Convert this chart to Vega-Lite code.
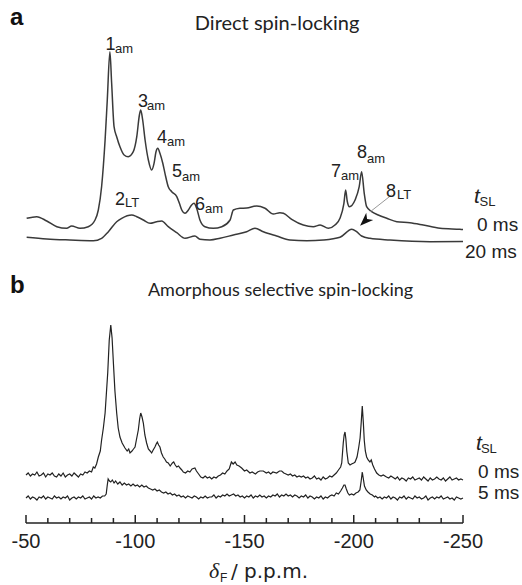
{
"$schema": "https://vega.github.io/schema/vega-lite/v6.json",
"width": 437, "height": 523,
"autosize": "none",
"padding": {"left": 26, "top": 0, "right": 59, "bottom": 62},
"background": "white",
"config": {"view": {"stroke": null}},
"datasets": {
"specA": [
{"trace":"0 ms","shift":-50.3,"intensity":304.7},{"trace":"0 ms","shift":-54.9,"intensity":306.3},{"trace":"0 ms","shift":-59.5,"intensity":302},{"trace":"0 ms","shift":-64.1,"intensity":296.3},{"trace":"0 ms","shift":-68.6,"intensity":294.7},{"trace":"0 ms","shift":-70.9,"intensity":297},{"trace":"0 ms","shift":-74.7,"intensity":294.7},{"trace":"0 ms","shift":-78.5,"intensity":296.3},{"trace":"0 ms","shift":-81.6,"intensity":303},{"trace":"0 ms","shift":-83.1,"intensity":313},{"trace":"0 ms","shift":-84.6,"intensity":336.3},{"trace":"0 ms","shift":-86.2,"intensity":383},{"trace":"0 ms","shift":-87.2,"intensity":423},{"trace":"0 ms","shift":-88.4,"intensity":471.3},{"trace":"0 ms","shift":-89.2,"intensity":439.7},{"trace":"0 ms","shift":-90.3,"intensity":396.3},{"trace":"0 ms","shift":-91.5,"intensity":386.3},{"trace":"0 ms","shift":-93.0,"intensity":376.3},{"trace":"0 ms","shift":-94.9,"intensity":368},{"trace":"0 ms","shift":-96.8,"intensity":366.3},{"trace":"0 ms","shift":-99.1,"intensity":371.3},{"trace":"0 ms","shift":-100.7,"intensity":386.3},{"trace":"0 ms","shift":-101.9,"intensity":408},{"trace":"0 ms","shift":-102.5,"intensity":413},{"trace":"0 ms","shift":-103.4,"intensity":403},{"trace":"0 ms","shift":-104.5,"intensity":383},{"trace":"0 ms","shift":-106.0,"intensity":363},{"trace":"0 ms","shift":-107.5,"intensity":353},{"trace":"0 ms","shift":-108.6,"intensity":359.7},{"trace":"0 ms","shift":-109.5,"intensity":371.3},{"trace":"0 ms","shift":-110.3,"intensity":374.7},{"trace":"0 ms","shift":-111.3,"intensity":369.7},{"trace":"0 ms","shift":-112.6,"intensity":359.7},{"trace":"0 ms","shift":-113.6,"intensity":349.7},{"trace":"0 ms","shift":-115.1,"intensity":336.3},{"trace":"0 ms","shift":-116.7,"intensity":331.3},{"trace":"0 ms","shift":-119.0,"intensity":326.3},{"trace":"0 ms","shift":-120.2,"intensity":319.7},{"trace":"0 ms","shift":-121.3,"intensity":313},{"trace":"0 ms","shift":-122.8,"intensity":309.7},{"trace":"0 ms","shift":-124.3,"intensity":313},{"trace":"0 ms","shift":-125.8,"intensity":318},{"trace":"0 ms","shift":-126.9,"intensity":319.7},{"trace":"0 ms","shift":-128.1,"intensity":314.7},{"trace":"0 ms","shift":-129.6,"intensity":303},{"trace":"0 ms","shift":-131.9,"intensity":296.3},{"trace":"0 ms","shift":-135.7,"intensity":294.7},{"trace":"0 ms","shift":-139.6,"intensity":296.3},{"trace":"0 ms","shift":-143.4,"intensity":303},{"trace":"0 ms","shift":-144.9,"intensity":313},{"trace":"0 ms","shift":-147.9,"intensity":314.7},{"trace":"0 ms","shift":-151.0,"intensity":315},{"trace":"0 ms","shift":-155.6,"intensity":317},{"trace":"0 ms","shift":-159.4,"intensity":314.7},{"trace":"0 ms","shift":-163.2,"intensity":309},{"trace":"0 ms","shift":-166.2,"intensity":310.3},{"trace":"0 ms","shift":-167.8,"intensity":309.7},{"trace":"0 ms","shift":-171.6,"intensity":303.7},{"trace":"0 ms","shift":-176.9,"intensity":298},{"trace":"0 ms","shift":-181.5,"intensity":296.3},{"trace":"0 ms","shift":-184.6,"intensity":298},{"trace":"0 ms","shift":-188.4,"intensity":294.7},{"trace":"0 ms","shift":-191.4,"intensity":298},{"trace":"0 ms","shift":-193.7,"intensity":304.7},{"trace":"0 ms","shift":-195.5,"intensity":319.7},{"trace":"0 ms","shift":-196.3,"intensity":333},{"trace":"0 ms","shift":-197.0,"intensity":322},{"trace":"0 ms","shift":-198.0,"intensity":316.3},{"trace":"0 ms","shift":-200.6,"intensity":323},{"trace":"0 ms","shift":-202.5,"intensity":336.3},{"trace":"0 ms","shift":-203.6,"intensity":351.3},{"trace":"0 ms","shift":-204.8,"intensity":329.7},{"trace":"0 ms","shift":-205.9,"intensity":316.3},{"trace":"0 ms","shift":-208.2,"intensity":311.3},{"trace":"0 ms","shift":-211.2,"intensity":308},{"trace":"0 ms","shift":-215.1,"intensity":304.7},{"trace":"0 ms","shift":-219.7,"intensity":301.3},{"trace":"0 ms","shift":-225.7,"intensity":300.3},{"trace":"0 ms","shift":-231.8,"intensity":298},{"trace":"0 ms","shift":-239.5,"intensity":294.7},{"trace":"0 ms","shift":-248.6,"intensity":293.7},{"trace":"0 ms","shift":-250,"intensity":293.5},
{"trace":"20 ms","shift":-50.3,"intensity":285.7},{"trace":"20 ms","shift":-59.5,"intensity":284},{"trace":"20 ms","shift":-70.1,"intensity":283},{"trace":"20 ms","shift":-80.8,"intensity":282.3},{"trace":"20 ms","shift":-84.6,"intensity":284.7},{"trace":"20 ms","shift":-87.7,"intensity":291.3},{"trace":"20 ms","shift":-91.5,"intensity":301.3},{"trace":"20 ms","shift":-93.8,"intensity":304.7},{"trace":"20 ms","shift":-98.4,"intensity":308},{"trace":"20 ms","shift":-100.7,"intensity":306.3},{"trace":"20 ms","shift":-103.7,"intensity":303},{"trace":"20 ms","shift":-106.8,"intensity":299.7},{"trace":"20 ms","shift":-109.8,"intensity":301.3},{"trace":"20 ms","shift":-112.1,"intensity":302},{"trace":"20 ms","shift":-115.1,"intensity":296.3},{"trace":"20 ms","shift":-119.0,"intensity":290.3},{"trace":"20 ms","shift":-122.8,"intensity":284.7},{"trace":"20 ms","shift":-127.3,"intensity":287},{"trace":"20 ms","shift":-129.6,"intensity":283.7},{"trace":"20 ms","shift":-134.2,"intensity":283},{"trace":"20 ms","shift":-138.8,"intensity":284.7},{"trace":"20 ms","shift":-144.9,"intensity":288},{"trace":"20 ms","shift":-151.0,"intensity":291.3},{"trace":"20 ms","shift":-154.8,"intensity":294.7},{"trace":"20 ms","shift":-158.6,"intensity":291.3},{"trace":"20 ms","shift":-164.7,"intensity":287},{"trace":"20 ms","shift":-170.8,"intensity":283},{"trace":"20 ms","shift":-178.5,"intensity":282.3},{"trace":"20 ms","shift":-186.1,"intensity":283},{"trace":"20 ms","shift":-193.7,"intensity":285.7},{"trace":"20 ms","shift":-199.1,"intensity":293.7},{"trace":"20 ms","shift":-201.3,"intensity":291.3},{"trace":"20 ms","shift":-203.6,"intensity":287},{"trace":"20 ms","shift":-207.4,"intensity":284.7},{"trace":"20 ms","shift":-216.6,"intensity":283},{"trace":"20 ms","shift":-234.9,"intensity":281.3},{"trace":"20 ms","shift":-250,"intensity":281.5}
],
"specB": [
{"trace":"0 ms","shift":-50,"intensity":48},{"trace":"0 ms","shift":-51,"intensity":50},{"trace":"0 ms","shift":-52,"intensity":47},{"trace":"0 ms","shift":-53,"intensity":49},{"trace":"0 ms","shift":-54,"intensity":48},{"trace":"0 ms","shift":-55,"intensity":51},{"trace":"0 ms","shift":-56,"intensity":47},{"trace":"0 ms","shift":-57,"intensity":48},{"trace":"0 ms","shift":-58,"intensity":50},{"trace":"0 ms","shift":-59,"intensity":46},{"trace":"0 ms","shift":-60,"intensity":49},{"trace":"0 ms","shift":-61,"intensity":48},{"trace":"0 ms","shift":-62,"intensity":50},{"trace":"0 ms","shift":-63,"intensity":47},{"trace":"0 ms","shift":-64,"intensity":46},{"trace":"0 ms","shift":-65,"intensity":49},{"trace":"0 ms","shift":-66,"intensity":47},{"trace":"0 ms","shift":-67,"intensity":50},{"trace":"0 ms","shift":-68,"intensity":46},{"trace":"0 ms","shift":-69,"intensity":48},{"trace":"0 ms","shift":-70,"intensity":49},{"trace":"0 ms","shift":-71,"intensity":47},{"trace":"0 ms","shift":-72,"intensity":50},{"trace":"0 ms","shift":-73,"intensity":48},{"trace":"0 ms","shift":-74,"intensity":46},{"trace":"0 ms","shift":-75,"intensity":49},{"trace":"0 ms","shift":-76,"intensity":48},{"trace":"0 ms","shift":-77,"intensity":51},{"trace":"0 ms","shift":-78,"intensity":50},{"trace":"0 ms","shift":-79,"intensity":52},{"trace":"0 ms","shift":-80,"intensity":51},{"trace":"0 ms","shift":-80.8,"intensity":56},{"trace":"0 ms","shift":-81.5,"intensity":55},{"trace":"0 ms","shift":-82.3,"intensity":59},{"trace":"0 ms","shift":-83.1,"intensity":66},{"trace":"0 ms","shift":-84,"intensity":72},{"trace":"0 ms","shift":-84.6,"intensity":83},{"trace":"0 ms","shift":-85.4,"intensity":95},{"trace":"0 ms","shift":-86.2,"intensity":110},{"trace":"0 ms","shift":-86.8,"intensity":130},{"trace":"0 ms","shift":-87.4,"intensity":150},{"trace":"0 ms","shift":-88.1,"intensity":183},{"trace":"0 ms","shift":-88.8,"intensity":198},{"trace":"0 ms","shift":-89.4,"intensity":185},{"trace":"0 ms","shift":-90.0,"intensity":160},{"trace":"0 ms","shift":-90.7,"intensity":132},{"trace":"0 ms","shift":-91.5,"intensity":110},{"trace":"0 ms","shift":-92.2,"intensity":95},{"trace":"0 ms","shift":-93,"intensity":86},{"trace":"0 ms","shift":-94,"intensity":80},{"trace":"0 ms","shift":-95.3,"intensity":75},{"trace":"0 ms","shift":-96.3,"intensity":72},{"trace":"0 ms","shift":-97,"intensity":74},{"trace":"0 ms","shift":-97.6,"intensity":70},{"trace":"0 ms","shift":-98.5,"intensity":72},{"trace":"0 ms","shift":-99.2,"intensity":74},{"trace":"0 ms","shift":-99.9,"intensity":76},{"trace":"0 ms","shift":-100.6,"intensity":84},{"trace":"0 ms","shift":-101.4,"intensity":93},{"trace":"0 ms","shift":-102,"intensity":104},{"trace":"0 ms","shift":-102.5,"intensity":110},{"trace":"0 ms","shift":-103.1,"intensity":106},{"trace":"0 ms","shift":-103.7,"intensity":100},{"trace":"0 ms","shift":-104.4,"intensity":88},{"trace":"0 ms","shift":-105.2,"intensity":80},{"trace":"0 ms","shift":-106,"intensity":74},{"trace":"0 ms","shift":-106.8,"intensity":72},{"trace":"0 ms","shift":-107.5,"intensity":70},{"trace":"0 ms","shift":-108.2,"intensity":73},{"trace":"0 ms","shift":-109,"intensity":76},{"trace":"0 ms","shift":-109.6,"intensity":79},{"trace":"0 ms","shift":-110.1,"intensity":81},{"trace":"0 ms","shift":-110.7,"intensity":78},{"trace":"0 ms","shift":-111.3,"intensity":76},{"trace":"0 ms","shift":-112,"intensity":70},{"trace":"0 ms","shift":-112.8,"intensity":66},{"trace":"0 ms","shift":-113.5,"intensity":64},{"trace":"0 ms","shift":-114.3,"intensity":61},{"trace":"0 ms","shift":-115.1,"intensity":60},{"trace":"0 ms","shift":-116,"intensity":57},{"trace":"0 ms","shift":-117,"intensity":60},{"trace":"0 ms","shift":-117.6,"intensity":61},{"trace":"0 ms","shift":-118.3,"intensity":58},{"trace":"0 ms","shift":-119,"intensity":56},{"trace":"0 ms","shift":-119.8,"intensity":57},{"trace":"0 ms","shift":-120.5,"intensity":55},{"trace":"0 ms","shift":-121.3,"intensity":53},{"trace":"0 ms","shift":-122,"intensity":51},{"trace":"0 ms","shift":-123,"intensity":50},{"trace":"0 ms","shift":-124,"intensity":52},{"trace":"0 ms","shift":-125,"intensity":51},{"trace":"0 ms","shift":-126,"intensity":54},{"trace":"0 ms","shift":-127.3,"intensity":55},{"trace":"0 ms","shift":-128,"intensity":52},{"trace":"0 ms","shift":-129,"intensity":49},{"trace":"0 ms","shift":-130,"intensity":46},{"trace":"0 ms","shift":-131,"intensity":45},{"trace":"0 ms","shift":-132,"intensity":47},{"trace":"0 ms","shift":-133,"intensity":45},{"trace":"0 ms","shift":-134,"intensity":46},{"trace":"0 ms","shift":-135,"intensity":44},{"trace":"0 ms","shift":-136,"intensity":46},{"trace":"0 ms","shift":-137,"intensity":45},{"trace":"0 ms","shift":-138,"intensity":47},{"trace":"0 ms","shift":-139,"intensity":48},{"trace":"0 ms","shift":-140,"intensity":50},{"trace":"0 ms","shift":-141,"intensity":49},{"trace":"0 ms","shift":-142,"intensity":52},{"trace":"0 ms","shift":-143,"intensity":54},{"trace":"0 ms","shift":-144,"intensity":61},{"trace":"0 ms","shift":-144.8,"intensity":59},{"trace":"0 ms","shift":-145.7,"intensity":61},{"trace":"0 ms","shift":-146.5,"intensity":58},{"trace":"0 ms","shift":-147.5,"intensity":57},{"trace":"0 ms","shift":-148.7,"intensity":55},{"trace":"0 ms","shift":-150,"intensity":52},{"trace":"0 ms","shift":-151,"intensity":53},{"trace":"0 ms","shift":-152.5,"intensity":50},{"trace":"0 ms","shift":-153.5,"intensity":51},{"trace":"0 ms","shift":-155,"intensity":49},{"trace":"0 ms","shift":-156,"intensity":51},{"trace":"0 ms","shift":-157,"intensity":52},{"trace":"0 ms","shift":-158.6,"intensity":52},{"trace":"0 ms","shift":-160,"intensity":50},{"trace":"0 ms","shift":-161,"intensity":51},{"trace":"0 ms","shift":-162,"intensity":49},{"trace":"0 ms","shift":-163,"intensity":51},{"trace":"0 ms","shift":-164.7,"intensity":50},{"trace":"0 ms","shift":-166,"intensity":52},{"trace":"0 ms","shift":-167,"intensity":52},{"trace":"0 ms","shift":-168,"intensity":50},{"trace":"0 ms","shift":-169,"intensity":49},{"trace":"0 ms","shift":-170,"intensity":48},{"trace":"0 ms","shift":-171,"intensity":49},{"trace":"0 ms","shift":-172,"intensity":47},{"trace":"0 ms","shift":-173,"intensity":48},{"trace":"0 ms","shift":-174,"intensity":46},{"trace":"0 ms","shift":-175,"intensity":47},{"trace":"0 ms","shift":-176,"intensity":46},{"trace":"0 ms","shift":-177,"intensity":47},{"trace":"0 ms","shift":-178,"intensity":45},{"trace":"0 ms","shift":-179,"intensity":46},{"trace":"0 ms","shift":-180,"intensity":44},{"trace":"0 ms","shift":-181,"intensity":45},{"trace":"0 ms","shift":-182,"intensity":47},{"trace":"0 ms","shift":-183,"intensity":44},{"trace":"0 ms","shift":-184,"intensity":45},{"trace":"0 ms","shift":-185,"intensity":43},{"trace":"0 ms","shift":-186,"intensity":46},{"trace":"0 ms","shift":-187,"intensity":44},{"trace":"0 ms","shift":-188,"intensity":45},{"trace":"0 ms","shift":-189,"intensity":47},{"trace":"0 ms","shift":-190,"intensity":46},{"trace":"0 ms","shift":-191,"intensity":48},{"trace":"0 ms","shift":-192,"intensity":50},{"trace":"0 ms","shift":-193,"intensity":53},{"trace":"0 ms","shift":-194,"intensity":56},{"trace":"0 ms","shift":-194.5,"intensity":60},{"trace":"0 ms","shift":-195.2,"intensity":80},{"trace":"0 ms","shift":-195.6,"intensity":88},{"trace":"0 ms","shift":-196,"intensity":91},{"trace":"0 ms","shift":-196.4,"intensity":84},{"trace":"0 ms","shift":-196.8,"intensity":72},{"trace":"0 ms","shift":-197.5,"intensity":60},{"trace":"0 ms","shift":-198.3,"intensity":58},{"trace":"0 ms","shift":-199,"intensity":59},{"trace":"0 ms","shift":-200,"intensity":60},{"trace":"0 ms","shift":-200.6,"intensity":61},{"trace":"0 ms","shift":-201.5,"intensity":66},{"trace":"0 ms","shift":-202.3,"intensity":76},{"trace":"0 ms","shift":-202.9,"intensity":85},{"trace":"0 ms","shift":-203.4,"intensity":100},{"trace":"0 ms","shift":-203.9,"intensity":117},{"trace":"0 ms","shift":-204.4,"intensity":100},{"trace":"0 ms","shift":-204.8,"intensity":83},{"trace":"0 ms","shift":-205.3,"intensity":72},{"trace":"0 ms","shift":-205.9,"intensity":66},{"trace":"0 ms","shift":-206.6,"intensity":63},{"trace":"0 ms","shift":-207.4,"intensity":61},{"trace":"0 ms","shift":-208,"intensity":63},{"trace":"0 ms","shift":-208.7,"intensity":58},{"trace":"0 ms","shift":-209.5,"intensity":54},{"trace":"0 ms","shift":-210.5,"intensity":50},{"trace":"0 ms","shift":-211.5,"intensity":48},{"trace":"0 ms","shift":-212.5,"intensity":47},{"trace":"0 ms","shift":-213.5,"intensity":48},{"trace":"0 ms","shift":-215,"intensity":46},{"trace":"0 ms","shift":-216,"intensity":45},{"trace":"0 ms","shift":-217,"intensity":47},{"trace":"0 ms","shift":-218.4,"intensity":45},{"trace":"0 ms","shift":-219,"intensity":44},{"trace":"0 ms","shift":-220,"intensity":46},{"trace":"0 ms","shift":-221,"intensity":43},{"trace":"0 ms","shift":-222,"intensity":45},{"trace":"0 ms","shift":-223,"intensity":44},{"trace":"0 ms","shift":-224,"intensity":42},{"trace":"0 ms","shift":-225,"intensity":45},{"trace":"0 ms","shift":-226,"intensity":44},{"trace":"0 ms","shift":-227,"intensity":46},{"trace":"0 ms","shift":-228,"intensity":43},{"trace":"0 ms","shift":-229,"intensity":44},{"trace":"0 ms","shift":-230,"intensity":45},{"trace":"0 ms","shift":-231,"intensity":43},{"trace":"0 ms","shift":-232,"intensity":46},{"trace":"0 ms","shift":-233,"intensity":44},{"trace":"0 ms","shift":-234,"intensity":42},{"trace":"0 ms","shift":-235,"intensity":45},{"trace":"0 ms","shift":-236,"intensity":43},{"trace":"0 ms","shift":-237,"intensity":44},{"trace":"0 ms","shift":-238,"intensity":46},{"trace":"0 ms","shift":-239,"intensity":44},{"trace":"0 ms","shift":-240,"intensity":43},{"trace":"0 ms","shift":-241,"intensity":45},{"trace":"0 ms","shift":-242,"intensity":42},{"trace":"0 ms","shift":-243,"intensity":44},{"trace":"0 ms","shift":-244,"intensity":46},{"trace":"0 ms","shift":-245,"intensity":43},{"trace":"0 ms","shift":-246,"intensity":44},{"trace":"0 ms","shift":-247,"intensity":45},{"trace":"0 ms","shift":-248,"intensity":43},{"trace":"0 ms","shift":-249,"intensity":44},{"trace":"0 ms","shift":-250,"intensity":43},
{"trace":"5 ms","shift":-50,"intensity":25},{"trace":"5 ms","shift":-51,"intensity":27},{"trace":"5 ms","shift":-52,"intensity":24},{"trace":"5 ms","shift":-53,"intensity":26},{"trace":"5 ms","shift":-54,"intensity":25},{"trace":"5 ms","shift":-55,"intensity":23},{"trace":"5 ms","shift":-56,"intensity":26},{"trace":"5 ms","shift":-57,"intensity":25},{"trace":"5 ms","shift":-58,"intensity":27},{"trace":"5 ms","shift":-59,"intensity":24},{"trace":"5 ms","shift":-60,"intensity":26},{"trace":"5 ms","shift":-61,"intensity":25},{"trace":"5 ms","shift":-62,"intensity":24},{"trace":"5 ms","shift":-63,"intensity":27},{"trace":"5 ms","shift":-64,"intensity":25},{"trace":"5 ms","shift":-65,"intensity":26},{"trace":"5 ms","shift":-66,"intensity":24},{"trace":"5 ms","shift":-67,"intensity":26},{"trace":"5 ms","shift":-68,"intensity":25},{"trace":"5 ms","shift":-69,"intensity":27},{"trace":"5 ms","shift":-70,"intensity":23},{"trace":"5 ms","shift":-71,"intensity":25},{"trace":"5 ms","shift":-72,"intensity":26},{"trace":"5 ms","shift":-73,"intensity":24},{"trace":"5 ms","shift":-74,"intensity":26},{"trace":"5 ms","shift":-75,"intensity":25},{"trace":"5 ms","shift":-76,"intensity":27},{"trace":"5 ms","shift":-77,"intensity":24},{"trace":"5 ms","shift":-78,"intensity":25},{"trace":"5 ms","shift":-79,"intensity":26},{"trace":"5 ms","shift":-80,"intensity":24},{"trace":"5 ms","shift":-81,"intensity":27},{"trace":"5 ms","shift":-82,"intensity":25},{"trace":"5 ms","shift":-83,"intensity":26},{"trace":"5 ms","shift":-84,"intensity":25},{"trace":"5 ms","shift":-85,"intensity":27},{"trace":"5 ms","shift":-86,"intensity":27},{"trace":"5 ms","shift":-86.7,"intensity":29},{"trace":"5 ms","shift":-87.2,"intensity":38},{"trace":"5 ms","shift":-87.6,"intensity":44},{"trace":"5 ms","shift":-88.2,"intensity":42},{"trace":"5 ms","shift":-88.8,"intensity":41},{"trace":"5 ms","shift":-89.5,"intensity":43},{"trace":"5 ms","shift":-90.3,"intensity":40},{"trace":"5 ms","shift":-91,"intensity":42},{"trace":"5 ms","shift":-92,"intensity":39},{"trace":"5 ms","shift":-93,"intensity":41},{"trace":"5 ms","shift":-94,"intensity":38},{"trace":"5 ms","shift":-95,"intensity":40},{"trace":"5 ms","shift":-96,"intensity":38},{"trace":"5 ms","shift":-97,"intensity":39},{"trace":"5 ms","shift":-98,"intensity":37},{"trace":"5 ms","shift":-99,"intensity":39},{"trace":"5 ms","shift":-100,"intensity":37},{"trace":"5 ms","shift":-101,"intensity":38},{"trace":"5 ms","shift":-102,"intensity":36},{"trace":"5 ms","shift":-103,"intensity":38},{"trace":"5 ms","shift":-104,"intensity":36},{"trace":"5 ms","shift":-105,"intensity":37},{"trace":"5 ms","shift":-106,"intensity":35},{"trace":"5 ms","shift":-107,"intensity":34},{"trace":"5 ms","shift":-108,"intensity":33},{"trace":"5 ms","shift":-109,"intensity":34},{"trace":"5 ms","shift":-110,"intensity":32},{"trace":"5 ms","shift":-111,"intensity":33},{"trace":"5 ms","shift":-112,"intensity":31},{"trace":"5 ms","shift":-113,"intensity":30},{"trace":"5 ms","shift":-114,"intensity":31},{"trace":"5 ms","shift":-115,"intensity":29},{"trace":"5 ms","shift":-116,"intensity":30},{"trace":"5 ms","shift":-117,"intensity":28},{"trace":"5 ms","shift":-118,"intensity":29},{"trace":"5 ms","shift":-119,"intensity":27},{"trace":"5 ms","shift":-120,"intensity":28},{"trace":"5 ms","shift":-121,"intensity":26},{"trace":"5 ms","shift":-122,"intensity":27},{"trace":"5 ms","shift":-123,"intensity":25},{"trace":"5 ms","shift":-124,"intensity":27},{"trace":"5 ms","shift":-125,"intensity":26},{"trace":"5 ms","shift":-126,"intensity":25},{"trace":"5 ms","shift":-127,"intensity":27},{"trace":"5 ms","shift":-128,"intensity":26},{"trace":"5 ms","shift":-129,"intensity":24},{"trace":"5 ms","shift":-130,"intensity":26},{"trace":"5 ms","shift":-131,"intensity":25},{"trace":"5 ms","shift":-132,"intensity":27},{"trace":"5 ms","shift":-133,"intensity":25},{"trace":"5 ms","shift":-134,"intensity":26},{"trace":"5 ms","shift":-135,"intensity":26},{"trace":"5 ms","shift":-136,"intensity":28},{"trace":"5 ms","shift":-137,"intensity":25},{"trace":"5 ms","shift":-138,"intensity":27},{"trace":"5 ms","shift":-139,"intensity":26},{"trace":"5 ms","shift":-140,"intensity":28},{"trace":"5 ms","shift":-141,"intensity":27},{"trace":"5 ms","shift":-142,"intensity":29},{"trace":"5 ms","shift":-143,"intensity":27},{"trace":"5 ms","shift":-144,"intensity":28},{"trace":"5 ms","shift":-145,"intensity":29},{"trace":"5 ms","shift":-146,"intensity":27},{"trace":"5 ms","shift":-147,"intensity":28},{"trace":"5 ms","shift":-148,"intensity":26},{"trace":"5 ms","shift":-149,"intensity":27},{"trace":"5 ms","shift":-150,"intensity":25},{"trace":"5 ms","shift":-151,"intensity":27},{"trace":"5 ms","shift":-152,"intensity":26},{"trace":"5 ms","shift":-153,"intensity":28},{"trace":"5 ms","shift":-154,"intensity":25},{"trace":"5 ms","shift":-155,"intensity":27},{"trace":"5 ms","shift":-156,"intensity":26},{"trace":"5 ms","shift":-157,"intensity":28},{"trace":"5 ms","shift":-158,"intensity":26},{"trace":"5 ms","shift":-159,"intensity":27},{"trace":"5 ms","shift":-160,"intensity":25},{"trace":"5 ms","shift":-161,"intensity":27},{"trace":"5 ms","shift":-162,"intensity":26},{"trace":"5 ms","shift":-163,"intensity":28},{"trace":"5 ms","shift":-164,"intensity":27},{"trace":"5 ms","shift":-165,"intensity":29},{"trace":"5 ms","shift":-166,"intensity":26},{"trace":"5 ms","shift":-167,"intensity":28},{"trace":"5 ms","shift":-168,"intensity":27},{"trace":"5 ms","shift":-169,"intensity":29},{"trace":"5 ms","shift":-170,"intensity":27},{"trace":"5 ms","shift":-171,"intensity":28},{"trace":"5 ms","shift":-172,"intensity":26},{"trace":"5 ms","shift":-173,"intensity":28},{"trace":"5 ms","shift":-174,"intensity":27},{"trace":"5 ms","shift":-175,"intensity":25},{"trace":"5 ms","shift":-176,"intensity":27},{"trace":"5 ms","shift":-177,"intensity":26},{"trace":"5 ms","shift":-178,"intensity":28},{"trace":"5 ms","shift":-179,"intensity":25},{"trace":"5 ms","shift":-180,"intensity":27},{"trace":"5 ms","shift":-181,"intensity":26},{"trace":"5 ms","shift":-182,"intensity":24},{"trace":"5 ms","shift":-183,"intensity":26},{"trace":"5 ms","shift":-184,"intensity":25},{"trace":"5 ms","shift":-185,"intensity":27},{"trace":"5 ms","shift":-186,"intensity":24},{"trace":"5 ms","shift":-187,"intensity":26},{"trace":"5 ms","shift":-188,"intensity":25},{"trace":"5 ms","shift":-189,"intensity":27},{"trace":"5 ms","shift":-190,"intensity":28},{"trace":"5 ms","shift":-191,"intensity":27},{"trace":"5 ms","shift":-192,"intensity":30},{"trace":"5 ms","shift":-193,"intensity":29},{"trace":"5 ms","shift":-194,"intensity":32},{"trace":"5 ms","shift":-194.8,"intensity":35},{"trace":"5 ms","shift":-195.5,"intensity":38},{"trace":"5 ms","shift":-196,"intensity":38},{"trace":"5 ms","shift":-196.6,"intensity":34},{"trace":"5 ms","shift":-197.3,"intensity":30},{"trace":"5 ms","shift":-198,"intensity":28},{"trace":"5 ms","shift":-199,"intensity":29},{"trace":"5 ms","shift":-200,"intensity":28},{"trace":"5 ms","shift":-201,"intensity":30},{"trace":"5 ms","shift":-202,"intensity":31},{"trace":"5 ms","shift":-202.8,"intensity":33},{"trace":"5 ms","shift":-203.4,"intensity":42},{"trace":"5 ms","shift":-203.9,"intensity":51},{"trace":"5 ms","shift":-204.4,"intensity":44},{"trace":"5 ms","shift":-204.9,"intensity":37},{"trace":"5 ms","shift":-205.7,"intensity":33},{"trace":"5 ms","shift":-206.5,"intensity":31},{"trace":"5 ms","shift":-207.5,"intensity":29},{"trace":"5 ms","shift":-208.5,"intensity":28},{"trace":"5 ms","shift":-209.5,"intensity":26},{"trace":"5 ms","shift":-210,"intensity":27},{"trace":"5 ms","shift":-211,"intensity":25},{"trace":"5 ms","shift":-212,"intensity":26},{"trace":"5 ms","shift":-213,"intensity":24},{"trace":"5 ms","shift":-214,"intensity":26},{"trace":"5 ms","shift":-215,"intensity":25},{"trace":"5 ms","shift":-216,"intensity":27},{"trace":"5 ms","shift":-217,"intensity":24},{"trace":"5 ms","shift":-218,"intensity":26},{"trace":"5 ms","shift":-219,"intensity":25},{"trace":"5 ms","shift":-220,"intensity":23},{"trace":"5 ms","shift":-221,"intensity":26},{"trace":"5 ms","shift":-222,"intensity":25},{"trace":"5 ms","shift":-223,"intensity":27},{"trace":"5 ms","shift":-224,"intensity":24},{"trace":"5 ms","shift":-225,"intensity":26},{"trace":"5 ms","shift":-226,"intensity":25},{"trace":"5 ms","shift":-227,"intensity":24},{"trace":"5 ms","shift":-228,"intensity":27},{"trace":"5 ms","shift":-229,"intensity":25},{"trace":"5 ms","shift":-230,"intensity":26},{"trace":"5 ms","shift":-231,"intensity":24},{"trace":"5 ms","shift":-232,"intensity":25},{"trace":"5 ms","shift":-233,"intensity":27},{"trace":"5 ms","shift":-234,"intensity":23},{"trace":"5 ms","shift":-235,"intensity":25},{"trace":"5 ms","shift":-236,"intensity":26},{"trace":"5 ms","shift":-237,"intensity":24},{"trace":"5 ms","shift":-238,"intensity":26},{"trace":"5 ms","shift":-239,"intensity":25},{"trace":"5 ms","shift":-240,"intensity":27},{"trace":"5 ms","shift":-241,"intensity":24},{"trace":"5 ms","shift":-242,"intensity":25},{"trace":"5 ms","shift":-243,"intensity":26},{"trace":"5 ms","shift":-244,"intensity":24},{"trace":"5 ms","shift":-245,"intensity":25},{"trace":"5 ms","shift":-246,"intensity":23},{"trace":"5 ms","shift":-247,"intensity":26},{"trace":"5 ms","shift":-248,"intensity":25},{"trace":"5 ms","shift":-249,"intensity":24},{"trace":"5 ms","shift":-250,"intensity":25}
],
"majorTicks": [{"shift":-50},{"shift":-100},{"shift":-150},{"shift":-200},{"shift":-250}],
"minorTicks": [{"shift":-60},{"shift":-70},{"shift":-80},{"shift":-90},{"shift":-110},{"shift":-120},{"shift":-130},{"shift":-140},{"shift":-160},{"shift":-170},{"shift":-180},{"shift":-190},{"shift":-210},{"shift":-220},{"shift":-230},{"shift":-240}],
"peakMain": [
{"x":-86.4,"y":473,"t":"1"},{"x":-101.3,"y":416,"t":"3"},{"x":-110.0,"y":380,"t":"4"},{"x":-116.8,"y":346,"t":"5"},{"x":-127.3,"y":313,"t":"6"},{"x":-90.7,"y":318,"t":"2"},{"x":-189.6,"y":346,"t":"7"},{"x":-201.5,"y":365,"t":"8"},{"x":-214.8,"y":326,"t":"8"}
],
"peakSub": [
{"x":-90.7,"y":470,"t":"am"},{"x":-105.4,"y":413.5,"t":"am"},{"x":-114.5,"y":377,"t":"am"},{"x":-121.4,"y":342,"t":"am"},{"x":-131.9,"y":310,"t":"am"},{"x":-95.3,"y":316,"t":"LT"},{"x":-194.2,"y":343.5,"t":"am"},{"x":-206.1,"y":360,"t":"am"},{"x":-219.8,"y":324,"t":"LT"}
],
"tslMain": [{"x":-255.0,"y":320,"t":"t"},{"x":-255.9,"y":73,"t":"t"}],
"tslSub": [{"x":-257.6,"y":317,"t":"SL"},{"x":-258.2,"y":70,"t":"SL"}],
"delays": [{"x":-256.4,"y":292,"t":"0 ms"},{"x":-250.9,"y":265,"t":"20 ms"},{"x":-256.9,"y":45,"t":"0 ms"},{"x":-256.9,"y":24,"t":"5 ms"}],
"titleA": [{"x":-164.9,"y":493,"t":"Direct spin-locking"}],
"titleB": [{"x":-166.5,"y":227,"t":"Amorphous selective spin-locking"}],
"letters": [{"x":-42.7,"y":498,"t":"a"},{"x":-42.7,"y":230,"t":"b"}],
"axisDelta": [{"x":-133.8,"y":-55,"t":"δ"}],
"axisSub": [{"x":-138.8,"y":-59,"t":"F"}],
"axisRest": [{"x":-143.8,"y":-55,"t":"/ p.p.m."}],
"arrowLine": [{"x":-217.3,"y":328,"x2":-207.4,"y2":311}],
"arrowHead": [{"x":-205.1,"y":302}]
},
"layer": [
{"data":{"name":"specA"},"mark":{"type":"line","interpolate":"monotone","color":"#3a3a3a","strokeWidth":1.5},
 "encoding":{
  "x":{"field":"shift","type":"quantitative","scale":{"domain":[-50,-250],"nice":false,"zero":false},"axis":null},
  "y":{"field":"intensity","type":"quantitative","scale":{"domain":[0,523],"nice":false,"zero":false},"axis":null},
  "detail":{"field":"trace"}}},
{"data":{"name":"specB"},"mark":{"type":"line","interpolate":"linear","color":"#222","strokeWidth":1.2},
 "encoding":{"x":{"field":"shift","type":"quantitative","axis":null},"y":{"field":"intensity","type":"quantitative","axis":null},"detail":{"field":"trace"}}},
{"data":{"values":[{}]},"mark":{"type":"rule","color":"#222","strokeWidth":1.5},
 "encoding":{"x":{"datum":-50,"type":"quantitative","axis":null},"x2":{"datum":-250},"y":{"datum":0,"type":"quantitative","axis":null}}},
{"data":{"name":"majorTicks"},"mark":{"type":"rule","color":"#222","strokeWidth":1.5},
 "encoding":{"x":{"field":"shift","type":"quantitative","axis":null},"y":{"datum":0,"type":"quantitative","axis":null},"y2":{"datum":8}}},
{"data":{"name":"minorTicks"},"mark":{"type":"rule","color":"#222","strokeWidth":1.5},
 "encoding":{"x":{"field":"shift","type":"quantitative","axis":null},"y":{"datum":0,"type":"quantitative","axis":null},"y2":{"datum":5}}},
{"data":{"name":"majorTicks"},"mark":{"type":"text","align":"center","baseline":"top","font":"Liberation Sans","fontSize":20,"color":"#222"},
 "encoding":{"x":{"field":"shift","type":"quantitative","axis":null},"y":{"datum":-8.5,"type":"quantitative","axis":null},"text":{"field":"shift","type":"nominal"}}},
{"data":{"name":"arrowLine"},"mark":{"type":"rule","color":"#999","strokeWidth":1},
 "encoding":{"x":{"field":"x","type":"quantitative","axis":null},"y":{"field":"y","type":"quantitative","axis":null},"x2":{"field":"x2"},"y2":{"field":"y2"}}},
{"data":{"name":"arrowHead"},"mark":{"type":"point","shape":"M 1 0 L -1 -0.75 L -0.45 0 L -1 0.75 Z","filled":true,"color":"#111","size":180,"angle":136,"opacity":1},
 "encoding":{"x":{"field":"x","type":"quantitative","axis":null},"y":{"field":"y","type":"quantitative","axis":null}}},
{"data":{"name":"peakMain"},"mark":{"type":"text","align":"left","baseline":"alphabetic","font":"Liberation Sans","fontSize":18,"color":"#222"},
 "encoding":{"x":{"field":"x","type":"quantitative","axis":null},"y":{"field":"y","type":"quantitative","axis":null},"text":{"field":"t"}}},
{"data":{"name":"peakSub"},"mark":{"type":"text","align":"left","baseline":"alphabetic","font":"Liberation Sans","fontSize":13,"color":"#222"},
 "encoding":{"x":{"field":"x","type":"quantitative","axis":null},"y":{"field":"y","type":"quantitative","axis":null},"text":{"field":"t"}}},
{"data":{"name":"tslMain"},"mark":{"type":"text","align":"left","baseline":"alphabetic","font":"Liberation Sans","fontStyle":"italic","fontSize":21,"color":"#222"},
 "encoding":{"x":{"field":"x","type":"quantitative","axis":null},"y":{"field":"y","type":"quantitative","axis":null},"text":{"field":"t"}}},
{"data":{"name":"tslSub"},"mark":{"type":"text","align":"left","baseline":"alphabetic","font":"Liberation Sans","fontSize":13,"color":"#222"},
 "encoding":{"x":{"field":"x","type":"quantitative","axis":null},"y":{"field":"y","type":"quantitative","axis":null},"text":{"field":"t"}}},
{"data":{"name":"delays"},"mark":{"type":"text","align":"left","baseline":"alphabetic","font":"Liberation Sans","fontSize":19,"color":"#222"},
 "encoding":{"x":{"field":"x","type":"quantitative","axis":null},"y":{"field":"y","type":"quantitative","axis":null},"text":{"field":"t"}}},
{"data":{"name":"titleA"},"mark":{"type":"text","align":"center","baseline":"alphabetic","font":"Lato","fontSize":20,"color":"#222"},
 "encoding":{"x":{"field":"x","type":"quantitative","axis":null},"y":{"field":"y","type":"quantitative","axis":null},"text":{"field":"t"}}},
{"data":{"name":"titleB"},"mark":{"type":"text","align":"center","baseline":"alphabetic","font":"Lato","fontSize":18,"color":"#222"},
 "encoding":{"x":{"field":"x","type":"quantitative","axis":null},"y":{"field":"y","type":"quantitative","axis":null},"text":{"field":"t"}}},
{"data":{"name":"letters"},"mark":{"type":"text","align":"left","baseline":"alphabetic","font":"Liberation Sans","fontWeight":"bold","fontSize":24,"color":"#111"},
 "encoding":{"x":{"field":"x","type":"quantitative","axis":null},"y":{"field":"y","type":"quantitative","axis":null},"text":{"field":"t"}}},
{"data":{"name":"axisDelta"},"mark":{"type":"text","align":"left","baseline":"alphabetic","font":"Liberation Serif","fontStyle":"italic","fontSize":22,"color":"#222"},
 "encoding":{"x":{"field":"x","type":"quantitative","axis":null},"y":{"field":"y","type":"quantitative","axis":null},"text":{"field":"t"}}},
{"data":{"name":"axisSub"},"mark":{"type":"text","align":"left","baseline":"alphabetic","font":"Liberation Sans","fontSize":12,"color":"#222"},
 "encoding":{"x":{"field":"x","type":"quantitative","axis":null},"y":{"field":"y","type":"quantitative","axis":null},"text":{"field":"t"}}},
{"data":{"name":"axisRest"},"mark":{"type":"text","align":"left","baseline":"alphabetic","font":"DejaVu Sans","fontSize":20,"color":"#222"},
 "encoding":{"x":{"field":"x","type":"quantitative","axis":null},"y":{"field":"y","type":"quantitative","axis":null},"text":{"field":"t"}}}
]
}
